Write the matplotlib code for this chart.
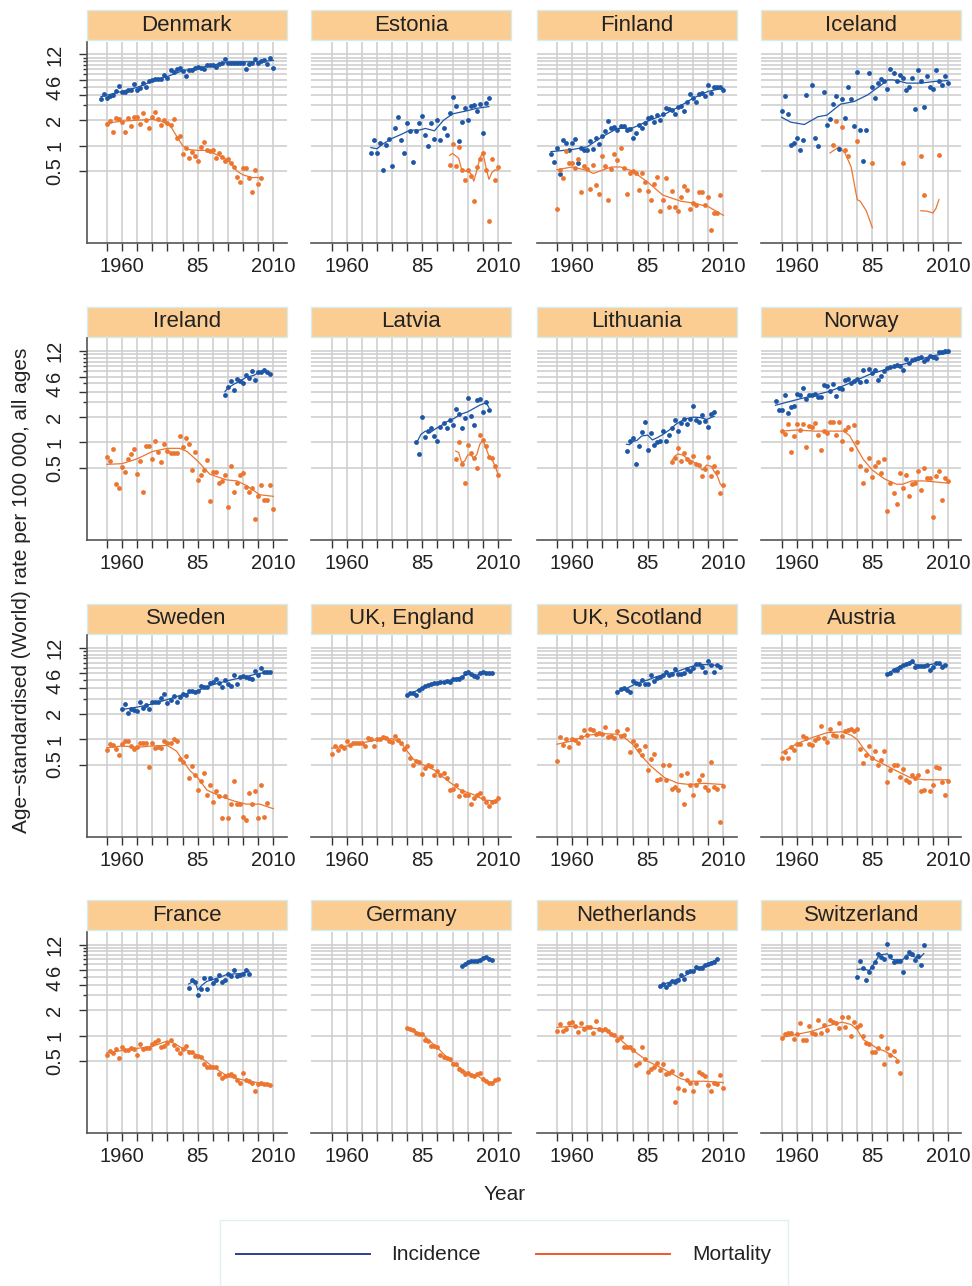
import matplotlib.pyplot as plt
import numpy as np
from matplotlib.patches import Rectangle
from matplotlib.lines import Line2D
from matplotlib.ticker import NullFormatter

plt.rcParams['font.family'] = ['Liberation Sans', 'DejaVu Sans']

nan = np.nan

# Age-standardised rates per 100 000; dots = one value per year from *_from,
# *_fit = smoothed trend (years, values)
denmark_inc_from = 1953
denmark_inc = [3.6, 4.1, 3.7, 3.9, 4.0, 4.4, 5.1, 4.3, 4.3, 4.5, 4.6, 5.3, 4.6, 4.8, 5.5,
               4.9, 5.8, 6.0, 6.1, 6.1, 6.2, 6.9, 6.4, 7.9, 7.4, 8.0, 8.3, 7.6, 6.7, 7.8,
               7.8, 8.2, 8.6, 8.3, 8.0, 8.9, 9.0, 9.1, 8.6, 9.3, 9.5, 10.6, 9.6, 9.4, 9.6,
               9.6, 9.6, 9.4, 8.0, 9.2, 9.5, 10.5, 9.4, 10.1, 10.4, 9.3, 11.0, 8.2]
denmark_mort_from = 1955
denmark_mort = [1.8, 1.95, 1.47, 2.1, 2.05, 1.93, 1.47, 2.1, 1.73, 2.2, 2.2, 1.79, 2.42,
                2.0, 1.6, 2.2, 2.5, 2.06, 1.78, 2.0, 1.86, 1.75, 2.05, 1.25, 1.31, 0.79,
                0.93, 0.71, 0.85, 0.76, 0.66, 0.96, 1.12, 0.9, 0.86, 0.9, 0.71, 0.81, 0.74,
                0.66, 0.7, 0.62, 0.56, 0.43, 0.37, 0.55, 0.55, 0.42, 0.28, 0.51, 0.35, 0.42]
denmark_inc_fit = ([1953, 1960, 1965, 1970, 1975, 1980, 1985, 1990, 1995, 2000, 2005, 2010],
                   [3.8, 4.4, 4.9, 5.8, 6.6, 7.7, 8.3, 9.0, 9.7, 9.8, 9.9, 10.2])
denmark_mort_fit = ([1955, 1960, 1965, 1970, 1973, 1976, 1978, 1980, 1982, 1985, 1988, 1990,
                     1995, 1998, 2000, 2003, 2006],
                    [1.85, 1.95, 2.0, 2.05, 1.95, 1.7, 1.3, 1.0, 0.9, 0.88, 0.88, 0.82,
                     0.68, 0.5, 0.45, 0.42, 0.42])

estonia_inc_from = 1968
estonia_inc = [0.83, 1.18, 0.81, 1.07, 0.51, 1.02, 1.19, 0.57, 1.62, 2.17, 1.17, 0.83, 1.88,
               1.48, 0.65, 1.51, 1.84, 2.27, 1.35, 0.99, 1.84, 1.2, 2.03, 1.17, 1.63, 1.33,
               2.42, 3.75, 2.93, 1.15, 1.91, 2.8, 2.02, 2.95, 3.0, 2.58, 3.13, 1.41, 3.18, 3.65]
estonia_mort_from = 1994
estonia_mort = [0.59, 1.04, 0.57, 0.96, 0.52, 0.39, 0.52, 0.44, 0.22, 0.56, 0.7, 0.83, 0.51,
                0.127, 0.69, 0.39, 0.56]
estonia_inc_fit = ([1968, 1970, 1972, 1975, 1978, 1981, 1984, 1986, 1989, 1992, 1995, 2000,
                    2003, 2007],
                   [0.95, 0.92, 1.05, 1.22, 1.36, 1.53, 1.53, 1.6, 1.5, 2.0, 2.38, 2.6, 2.77, 2.9])
estonia_mort_fit = ([1994, 1995, 1997, 1998, 1999.5, 2001, 2002, 2003, 2004, 2005, 2006, 2007,
                     2008, 2009, 2010],
                    [0.77, 0.81, 0.71, 0.52, 0.5, 0.47, 0.38, 0.51, 0.71, 0.83, 0.56, 0.4,
                     0.48, 0.52, 0.51])

finland_inc_from = 1953
finland_inc = [0.8, 0.64, 0.94, 0.46, 1.17, 1.07, 0.9, 1.07, 1.19, 0.62, 0.95, 0.89, 0.89,
               1.13, 0.91, 1.24, 1.05, 1.3, 1.48, 1.94, 1.62, 1.67, 1.53, 1.71, 1.71, 1.52,
               1.56, 1.23, 1.41, 1.76, 1.62, 1.88, 2.11, 2.17, 1.91, 2.29, 2.02, 2.35, 2.8,
               2.7, 2.62, 2.35, 2.9, 2.93, 2.56, 3.33, 4.07, 3.7, 3.33, 4.05, 4.2, 3.9, 5.25,
               4.2, 5.0, 4.9, 4.95, 4.55]
finland_mort_from = 1955
finland_mort = [0.18, 0.52, 0.41, 0.86, 0.62, 0.62, 0.55, 0.69, 0.28, 0.58, 0.53, 0.31, 0.59,
                0.34, 0.27, 0.76, 0.57, 0.23, 0.53, 0.8, 0.68, 0.95, 0.55, 0.27, 0.47, 0.5,
                0.47, 0.3, 0.47, 0.37, 0.29, 0.23, 0.35, 0.43, 0.17, 0.23, 0.41, 0.19, 0.29,
                0.19, 0.17, 0.25, 0.33, 0.3, 0.18, 0.21, 0.2, 0.28, 0.28, 0.2, 0.25, 0.1,
                0.16, 0.16, 0.26]
finland_inc_fit = ([1953, 1960, 1965, 1970, 1975, 1980, 1985, 1990, 1995, 2000, 2005, 2010],
                   [0.85, 0.9, 0.97, 1.28, 1.6, 1.62, 1.95, 2.3, 2.85, 3.65, 4.4, 4.8])
finland_mort_fit = ([1955, 1960, 1965, 1967, 1973, 1976, 1980, 1985, 1990, 1996, 2000, 2005, 2010],
                    [0.52, 0.56, 0.51, 0.47, 0.56, 0.56, 0.5, 0.37, 0.26, 0.22, 0.21, 0.19, 0.15])

iceland_inc_from = 1955
iceland_inc = [2.6, 3.9, 2.35, 1.02, 1.07, 1.24, 0.89, 1.16, 4.0, nan, 5.25, 1.22, 0.98, nan,
               4.3, 1.76, 2.06, 3.15, 3.9, 0.92, 3.6, 2.13, 4.95, 3.6, 1.73, 7.4, 1.53, 0.66,
               1.53, 7.3, 4.9, 3.7, 5.5, 6.1, 5.8, 4.7, 8.0, 7.3, 5.8, 6.9, 6.3, 4.6, 5.0,
               6.3, 2.7, 7.9, 5.85, 2.9, 6.7, 4.95, 4.7, 7.9, 5.85, 5.25, 6.7, 5.45]
iceland_mort_years = [1972, 1973, 1975, 1976, 1977, 1980, 1985, 1995, 2001, 2002, 2007]
iceland_mort = [1.03, 1.98, 1.66, 0.88, 0.76, 1.13, 0.62, 0.63, 0.75, 0.26, 0.77]
iceland_inc_fit = ([1955, 1958, 1962.5, 1967, 1970, 1974.5, 1979, 1983.5, 1988, 1990, 1992,
                    1996.5, 2001, 2005.5, 2010],
                   [2.17, 1.9, 1.78, 2.2, 2.3, 3.1, 3.33, 4.0, 5.25, 6.0, 6.0, 5.5, 5.5, 5.75, 5.9])
iceland_mort_fit = ([1971, 1974, 1976, 1978, 1980, 1981, 1983, 1985, nan, 2001, 2003, 2005,
                     2006, 2007],
                    [0.82, 0.97, 0.81, 0.56, 0.23, 0.22, 0.17, 0.107, nan, 0.17, 0.168, 0.16,
                     0.18, 0.23])

ireland_inc_from = 1994
ireland_inc = [3.6, 4.5, 5.3, 4.2, 5.65, 5.3, 5.0, 6.35, 5.8, 6.95, 5.4, 6.75, 6.8, 7.2, 6.8, 6.5]
ireland_mort_from = 1955
ireland_mort = [0.67, 0.6, 0.83, 0.32, 0.29, 0.51, 0.45, 0.64, 0.73, 0.83, 0.42, 0.6, 0.26,
                0.9, 0.9, 0.64, 1.05, 0.77, 0.59, 0.97, 0.8, 0.75, 0.75, 0.74, 1.18, 0.88,
                1.14, 0.97, 0.47, 0.76, 0.36, 0.41, 0.47, 0.62, 0.2, 0.45, 0.45, 0.33, 0.35,
                0.41, 0.17, 0.52, 0.26, 0.33, 0.41, 0.43, 0.3, 0.26, 0.29, 0.125, 0.23, 0.31,
                0.21, 0.21, 0.31, 0.165]
ireland_inc_fit = ([1994, 1995, 1997, 1999, 2001, 2003.5, 2005.5, 2007, 2009],
                   [4.0, 4.4, 4.9, 5.3, 5.9, 6.2, 6.8, 7.1, 6.5])
ireland_mort_fit = ([1955, 1960, 1965, 1970, 1975, 1979, 1981.5, 1985, 1989, 1994.5, 1998,
                     2001, 2005.5, 2010],
                    [0.55, 0.56, 0.64, 0.78, 0.85, 0.85, 0.78, 0.6, 0.42, 0.36, 0.35, 0.31,
                     0.24, 0.23])

latvia_inc_from = 1983
latvia_inc = [1.0, 0.73, 2.0, 1.15, 1.35, 1.5, 1.18, 1.03, 1.52, 1.69, 1.5, 1.82, 1.62, 2.47,
              2.16, 1.48, 1.92, 3.36, 2.08, 1.59, 3.15, 3.25, 2.3, 3.02, 2.43]
latvia_mort_from = 1996
latvia_mort = [0.64, 1.02, 0.56, 0.33, 0.92, 0.74, 0.65, 0.5, 1.22, 1.07, 0.91, 0.68, 0.65,
               0.52, 0.41]
latvia_inc_fit = ([1983, 1984.5, 1986, 1987.5, 1989.5, 1991, 1993, 1995.5, 1997.5, 2000, 2002,
                   2004, 2006, 2007],
                  [0.97, 1.24, 1.36, 1.3, 1.46, 1.56, 1.75, 1.92, 2.14, 2.3, 2.52, 2.76, 2.94, 2.6])
latvia_mort_fit = ([1996, 1997, 1998, 1999, 2000, 2001, 2002, 2003, 2004, 2005, 2006, 2007,
                    2008, 2009, 2010],
                   [0.79, 0.76, 0.58, 0.6, 0.71, 0.71, 0.65, 0.72, 0.95, 1.06, 0.87, 0.69,
                    0.63, 0.53, 0.42])

lithuania_inc_from = 1978
lithuania_inc = [0.8, 1.04, 1.135, 0.56, 0.9, 1.32, 1.74, 0.81, 1.28, 0.94, 1.02, 1.04, 1.37,
                 1.04, 1.21, 1.47, 1.85, 1.36, 1.69, 1.87, 1.65, 1.87, 2.66, 1.85, 1.72, 2.1,
                 1.77, 1.54, 2.14, 2.28]
lithuania_mort_from = 1993
lithuania_mort = [0.59, 0.65, 0.86, 0.61, 0.74, 0.64, 0.58, 0.69, 0.55, 0.54, 0.4, 0.48, 0.68,
                  0.4, 0.52, 0.45, 0.25, 0.31]
lithuania_inc_fit = ([1978, 1979, 1980, 1981.5, 1983, 1985, 1986.5, 1988, 1990, 1992, 1994.5,
                      1997, 2000, 2002.5, 2004.5, 2007],
                     [0.95, 0.94, 1.02, 1.06, 1.19, 1.22, 1.07, 1.13, 1.24, 1.39, 1.66, 1.87,
                      1.99, 1.96, 1.87, 2.04])
lithuania_mort_fit = ([1993, 1994, 1995, 1996.5, 1998, 2000, 2002, 2003, 2004.5, 2006, 2007,
                       2008, 2009, 2010],
                      [0.61, 0.69, 0.73, 0.71, 0.65, 0.59, 0.53, 0.47, 0.54, 0.52, 0.45, 0.4,
                       0.32, 0.3])

norway_inc_from = 1953
norway_inc = [3.07, 2.4, 2.4, 3.6, 2.2, 2.64, 2.68, 3.7, 3.6, 4.41, 3.26, 3.6, 3.6, 3.7, 3.44,
              3.44, 4.8, 4.6, 4.1, 4.95, 3.5, 4.41, 4.25, 5.5, 5.7, 5.1, 5.3, 5.65, 5.2, 7.2,
              5.35, 7.4, 6.6, 7.2, 5.4, 6.1, 6.95, 7.5, 7.8, 7.95, 8.2, 8.1, 7.2, 9.7, 8.65,
              9.5, 9.8, 10.0, 10.3, 9.1, 9.8, 10.6, 10.3, 10.0, 11.6, 11.7, 12.0, 12.0]
norway_mort_from = 1955
norway_mort = [1.36, 1.27, 1.66, 0.76, 1.19, 1.66, 1.4, 1.67, 0.88, 1.57, 1.52, 1.69, 1.21,
               0.81, 1.36, 1.29, 1.72, 1.72, 1.22, 1.72, 1.04, 1.39, 1.52, 0.83, 1.6, 1.01,
               0.53, 0.33, 0.47, 0.66, 0.39, 0.53, 0.59, 0.43, 0.64, 0.155, 0.33, 0.25, 0.185,
               0.43, 0.29, 0.41, 0.23, 0.32, 0.33, 0.46, 0.27, 0.5, 0.38, 0.38, 0.13, 0.4,
               0.46, 0.21, 0.38, 0.35]
norway_inc_fit = ([1953, 1958, 1965, 1971, 1978, 1984, 1991, 1998, 2004, 2010],
                  [2.75, 3.07, 3.55, 4.03, 5.1, 6.35, 7.6, 8.95, 10.4, 11.4])
norway_mort_fit = ([1955, 1960, 1966, 1971, 1975.5, 1977.5, 1979.5, 1982, 1985, 1989, 1993,
                    1995, 1998, 2002, 2006, 2010],
                   [1.36, 1.4, 1.36, 1.36, 1.36, 1.2, 0.9, 0.63, 0.47, 0.37, 0.32, 0.32, 0.35,
                    0.35, 0.34, 0.33])

sweden_inc_from = 1960
sweden_inc = [2.28, 2.59, 2.06, 2.26, 2.2, 2.16, 2.76, 2.34, 2.52, 2.26, 2.74, 2.74, 2.76,
              3.04, 3.42, 2.66, 2.94, 3.25, 2.76, 3.12, 3.46, 3.28, 3.68, 3.71, 3.59, 3.74,
              4.26, 4.18, 4.15, 4.62, 4.75, 5.15, 4.57, 4.1, 5.06, 4.49, 4.26, 5.8, 4.49,
              5.45, 5.6, 5.5, 5.35, 5.2, 6.4, 5.8, 6.95, 6.2, 6.2, 6.15]
sweden_mort_from = 1955
sweden_mort = [0.74, 0.87, 0.85, 0.76, 0.65, 0.87, 0.96, 0.96, 0.83, 0.76, 0.81, 0.9, 0.91,
               0.91, 0.47, 0.91, 0.79, 0.81, 0.79, 0.95, 0.9, 0.9, 0.99, 0.95, 0.58, 0.54,
               0.63, 0.35, 0.48, 0.38, 0.25, 0.32, 0.4, 0.22, 0.29, 0.18, 0.24, 0.21, 0.115,
               0.21, 0.115, 0.17, 0.32, 0.17, 0.17, 0.12, 0.11, 0.23, 0.17, 0.24, 0.115,
               0.29, 0.12, 0.175]
sweden_inc_fit = ([1960, 1965, 1970, 1975, 1980, 1985, 1990, 1995, 2000, 2005, 2009],
                  [2.24, 2.39, 2.6, 2.94, 3.36, 3.74, 4.41, 4.92, 5.4, 5.95, 6.2])
sweden_mort_fit = ([1955, 1960, 1965, 1970, 1975, 1978, 1980.5, 1982.5, 1985, 1988, 1992.5,
                    1997, 2001, 2005.5, 2010],
                   [0.79, 0.83, 0.8, 0.83, 0.84, 0.72, 0.53, 0.42, 0.35, 0.25, 0.21, 0.185,
                    0.17, 0.17, 0.15])

england_inc_from = 1980
england_inc = [3.3, 3.5, 3.55, 3.36, 3.8, 4.03, 4.23, 4.37, 4.5, 4.58, 4.6, 4.75, 4.7, 4.83,
               4.7, 5.2, 5.15, 5.15, 5.45, 6.0, 6.2, 5.95, 5.64, 5.45, 6.0, 6.3, 6.1, 6.0, 6.0]
england_mort_from = 1955
england_mort = [0.67, 0.83, 0.75, 0.83, 0.79, 0.95, 0.85, 0.89, 0.9, 0.89, 0.9, 0.83, 1.04,
                0.99, 0.83, 1.01, 0.99, 1.07, 1.04, 0.95, 0.92, 1.1, 0.98, 0.9, 0.76, 0.83,
                0.6, 0.5, 0.55, 0.53, 0.39, 0.45, 0.49, 0.48, 0.38, 0.42, 0.38, 0.4, 0.35,
                0.25, 0.26, 0.29, 0.21, 0.24, 0.22, 0.22, 0.17, 0.2, 0.22, 0.23, 0.2, 0.18,
                0.16, 0.18, 0.185, 0.2]
england_inc_fit = ([1980, 1982, 1985, 1989, 1993, 1997.5, 2001, 2003, 2005.5, 2008],
                   [3.36, 3.55, 4.1, 4.58, 4.85, 5.4, 6.0, 5.7, 6.2, 6.0])
england_mort_fit = ([1955, 1960, 1965, 1970, 1975, 1978, 1980, 1982, 1985, 1989, 1993, 1997.5,
                     2002, 2005.5, 2010],
                    [0.78, 0.83, 0.9, 0.98, 1.01, 0.9, 0.72, 0.58, 0.5, 0.43, 0.33, 0.25,
                     0.22, 0.19, 0.185])

scotland_inc_from = 1975
scotland_inc = [3.63, 3.87, 4.0, 3.8, 3.63, 4.83, 4.6, 4.45, 4.95, 4.49, 4.53, 5.75, 4.9,
                5.3, 5.45, 5.8, 6.15, 5.7, 5.85, 6.7, 5.95, 5.95, 6.1, 6.7, 6.4, 6.95, 7.8,
                7.8, 7.2, 6.2, 8.5, 7.6, 6.2, 7.45, 7.2]
scotland_mort_from = 1955
scotland_mort = [0.55, 1.07, 0.86, 0.99, 0.8, 1.01, 0.97, 0.89, 1.05, 1.27, 1.11, 1.32, 1.29,
                 1.14, 1.18, 1.14, 1.39, 1.05, 1.09, 1.03, 1.25, 1.09, 1.11, 1.3, 0.7, 0.95,
                 0.85, 0.75, 0.65, 0.83, 0.43, 0.58, 0.67, 0.33, 0.34, 0.49, 0.33, 0.49, 0.26,
                 0.27, 0.25, 0.38, 0.17, 0.4, 0.29, 0.22, 0.29, 0.33, 0.38, 0.27, 0.25, 0.53,
                 0.27, 0.26, 0.105, 0.28]
scotland_inc_fit = ([1975, 1978, 1981.5, 1985, 1988, 1991.5, 1995, 1998, 2001.5, 2004.5, 2009],
                    [3.63, 3.98, 4.6, 5.0, 5.5, 5.95, 6.35, 6.95, 7.6, 7.6, 7.4])
scotland_mort_fit = ([1955, 1960, 1965, 1970, 1975, 1977, 1980, 1982.5, 1986, 1990.5, 1995,
                      1999, 2003.5, 2010],
                     [0.87, 0.95, 1.11, 1.16, 1.14, 1.06, 0.87, 0.66, 0.48, 0.35, 0.3, 0.29,
                      0.3, 0.29])

austria_inc_from = 1990
austria_inc = [5.9, 6.0, 6.55, 6.6, 7.2, 7.6, 7.8, 7.85, 8.5, 7.2, 7.35, 7.35, 7.35, 7.55,
               6.55, 7.2, 8.0, 7.85, 7.2, 7.45]
austria_mort_from = 1955
austria_mort = [0.6, 0.71, 0.59, 0.8, 0.75, 0.88, 0.88, 1.09, 1.04, 0.88, 0.86, 0.97, 1.04,
                1.42, 1.04, 0.92, 1.3, 1.11, 1.08, 1.57, 1.08, 1.24, 1.27, 1.32, 1.24, 1.31,
                0.77, 0.52, 0.64, 0.83, 0.59, 0.72, 0.49, 0.56, 0.72, 0.31, 0.43, 0.5, 0.5,
                0.36, 0.44, 0.33, 0.31, 0.38, 0.35, 0.38, 0.24, 0.25, 0.42, 0.24, 0.29, 0.47,
                0.46, 0.31, 0.22, 0.32]
austria_inc_fit = ([1990, 1993, 1997.5, 2000, 2003, 2005.5, 2009],
                   [5.95, 6.95, 8.15, 7.45, 7.45, 7.8, 7.4])
austria_mort_fit = ([1955, 1960, 1965, 1970, 1975, 1978, 1980, 1982, 1985, 1989, 1993, 1997.5,
                     2002, 2010],
                    [0.69, 0.88, 1.04, 1.19, 1.22, 1.11, 0.99, 0.78, 0.59, 0.5, 0.42, 0.35,
                     0.33, 0.33])

france_inc_from = 1982
france_inc = [3.68, 4.6, 4.3, 3.07, 3.6, 4.83, 3.6, 4.85, 4.2, 4.6, 5.3, 4.35, 4.6, 5.45,
              5.05, 6.0, 5.05, 5.3, 5.35, 6.05, 5.4]
france_mort_from = 1955
france_mort = [0.6, 0.66, 0.63, 0.7, 0.54, 0.74, 0.68, 0.68, 0.71, 0.7, 0.59, 0.81, 0.69,
               0.71, 0.72, 0.8, 0.84, 0.9, 0.74, 0.76, 0.82, 0.9, 0.77, 0.7, 0.62, 0.7,
               0.75, 0.65, 0.65, 0.57, 0.57, 0.56, 0.47, 0.43, 0.43, 0.43, 0.43, 0.35, 0.32,
               0.33, 0.34, 0.35, 0.33, 0.3, 0.28, 0.36, 0.3, 0.29, 0.28, 0.22, 0.27, 0.28,
               0.27, 0.27, 0.26]
france_inc_fit = ([1982, 1984, 1985, 1986.5, 1988, 1990.5, 1992.5, 1994.5, 1997, 1999, 2002],
                  [4.1, 4.5, 3.5, 4.0, 4.4, 4.7, 4.95, 5.3, 5.4, 5.45, 5.8])
france_mort_fit = ([1955, 1960, 1965, 1970, 1975, 1977, 1980, 1985, 1990, 1995, 2000, 2004.5,
                    2009],
                   [0.63, 0.67, 0.71, 0.75, 0.87, 0.82, 0.71, 0.59, 0.43, 0.33, 0.3, 0.28, 0.26])

germany_inc_from = 1998
germany_inc = [6.65, 7.1, 7.4, 7.6, 7.7, 7.7, 7.95, 8.3, 8.6, 8.2, 7.9]
germany_mort_from = 1980
germany_mort = [1.24, 1.21, 1.17, 1.09, 1.04, 1.06, 0.9, 0.87, 0.76, 0.75, 0.74, 0.6, 0.56,
                0.54, 0.53, 0.46, 0.46, 0.4, 0.38, 0.35, 0.36, 0.34, 0.33, 0.35, 0.36, 0.31,
                0.29, 0.28, 0.28, 0.3, 0.31]
germany_inc_fit = ([1998, 2001, 2004, 2006, 2008],
                   [6.65, 7.6, 7.95, 8.6, 7.9])
germany_mort_fit = ([1980, 1985, 1990, 1995, 2000, 2003, 2006, 2008, 2010],
                    [1.25, 1.04, 0.72, 0.48, 0.36, 0.34, 0.29, 0.28, 0.31])

netherlands_inc_from = 1989
netherlands_inc = [3.9, 4.1, 3.75, 4.05, 4.5, 4.35, 4.6, 5.3, 4.75, 5.7, 5.9, 5.9, 6.6, 6.3,
                   6.35, 6.95, 7.15, 7.3, 7.4, 8.15]
netherlands_mort_from = 1955
netherlands_mort = [1.13, 1.38, 1.13, 1.21, 1.42, 1.45, 1.31, 1.11, 1.43, 1.19, 1.26, 1.26,
                    1.08, 1.49, 1.21, 1.17, 1.21, 1.13, 1.05, 1.03, 0.9, 0.97, 0.74, 0.74,
                    0.74, 0.67, 0.45, 0.48, 0.74, 0.53, 0.37, 0.41, 0.43, 0.48, 0.39, 0.46,
                    0.35, 0.36, 0.38, 0.165, 0.24, 0.35, 0.23, 0.3, 0.28, 0.22, 0.28, 0.37,
                    0.35, 0.33, 0.26, 0.22, 0.28, 0.27, 0.34, 0.24]
netherlands_inc_fit = ([1989, 1992.5, 1997, 2001.5, 2008],
                       [3.95, 4.35, 5.06, 6.25, 8.05])
netherlands_mort_fit = ([1955, 1960, 1965, 1970, 1975, 1979.5, 1985, 1990.5, 1996, 1999, 2003.5,
                         2010],
                        [1.26, 1.29, 1.25, 1.2, 0.96, 0.7, 0.5, 0.4, 0.31, 0.29, 0.29, 0.28])

switzerland_inc_from = 1980
switzerland_inc = [4.9, 7.6, 6.35, 4.6, 5.65, 6.45, 7.5, 9.35, 8.65, 8.2, 12.1, 8.9, 7.4, 7.75,
                   7.75, 5.65, 8.6, 9.7, 9.35, 7.85, 8.8, 6.95, 11.75]
switzerland_mort_from = 1955
switzerland_mort = [0.95, 1.04, 1.07, 1.09, 0.92, 1.04, 1.42, 0.88, 0.89, 1.31, 1.08, 1.06,
                    1.52, 1.08, 1.35, 1.18, 1.55, 1.45, 1.41, 1.24, 1.69, 1.27, 1.66, 1.0,
                    1.47, 1.28, 1.36, 0.99, 0.82, 0.81, 0.64, 0.64, 0.72, 0.99, 0.47, 0.71,
                    0.6, 0.66, 0.51, 0.36]
switzerland_inc_fit = ([1980, 1982, 1984, 1986, 1987.5, 1990, 1991.5, 1993, 1995, 1996.5, 1998.5,
                        2000.5, 2002],
                       [6.1, 6.2, 5.9, 7.6, 9.1, 9.3, 8.0, 7.9, 7.9, 9.1, 8.7, 8.2, 9.4])
switzerland_mort_fit = ([1955, 1960, 1965, 1970, 1975, 1978, 1980, 1982, 1984.5, 1986.5,
                         1989, 1991, 1993],
                        [0.95, 1.04, 1.13, 1.3, 1.45, 1.36, 1.18, 0.9, 0.8, 0.71, 0.66, 0.6,
                         0.54])

panels = [
    ('Denmark', denmark_inc_from, denmark_inc, denmark_mort_from, denmark_mort,
     denmark_inc_fit, denmark_mort_fit),
    ('Estonia', estonia_inc_from, estonia_inc, estonia_mort_from, estonia_mort,
     estonia_inc_fit, estonia_mort_fit),
    ('Finland', finland_inc_from, finland_inc, finland_mort_from, finland_mort,
     finland_inc_fit, finland_mort_fit),
    ('Iceland', iceland_inc_from, iceland_inc, iceland_mort_years, iceland_mort,
     iceland_inc_fit, iceland_mort_fit),
    ('Ireland', ireland_inc_from, ireland_inc, ireland_mort_from, ireland_mort,
     ireland_inc_fit, ireland_mort_fit),
    ('Latvia', latvia_inc_from, latvia_inc, latvia_mort_from, latvia_mort,
     latvia_inc_fit, latvia_mort_fit),
    ('Lithuania', lithuania_inc_from, lithuania_inc, lithuania_mort_from, lithuania_mort,
     lithuania_inc_fit, lithuania_mort_fit),
    ('Norway', norway_inc_from, norway_inc, norway_mort_from, norway_mort,
     norway_inc_fit, norway_mort_fit),
    ('Sweden', sweden_inc_from, sweden_inc, sweden_mort_from, sweden_mort,
     sweden_inc_fit, sweden_mort_fit),
    ('UK, England', england_inc_from, england_inc, england_mort_from, england_mort,
     england_inc_fit, england_mort_fit),
    ('UK, Scotland', scotland_inc_from, scotland_inc, scotland_mort_from, scotland_mort,
     scotland_inc_fit, scotland_mort_fit),
    ('Austria', austria_inc_from, austria_inc, austria_mort_from, austria_mort,
     austria_inc_fit, austria_mort_fit),
    ('France', france_inc_from, france_inc, france_mort_from, france_mort,
     france_inc_fit, france_mort_fit),
    ('Germany', germany_inc_from, germany_inc, germany_mort_from, germany_mort,
     germany_inc_fit, germany_mort_fit),
    ('Netherlands', netherlands_inc_from, netherlands_inc, netherlands_mort_from,
     netherlands_mort, netherlands_inc_fit, netherlands_mort_fit),
    ('Switzerland', switzerland_inc_from, switzerland_inc, switzerland_mort_from,
     switzerland_mort, switzerland_inc_fit, switzerland_mort_fit),
]

y_major = [0.5, 1, 2, 4, 6, 12]
y_major_labels = ['0.5', '1', '2', '4', '6', '12']
y_minor = [3, 5, 7, 8, 9, 10, 11]
x_major = [1960, 1985, 2010]
x_major_labels = ['1960', '85', '2010']

BLUE = '#1D56A6'
ORANGE = '#EC7630'
GRID = '#CFCFCF'
STRIP = '#FBCD93'


def years_of(start, vals):
    if isinstance(start, int):
        return np.arange(start, start + len(vals))
    return np.asarray(start)


W, H = 972, 1286
fig = plt.figure(figsize=(W / 100, H / 100), dpi=100)

lefts = [86.7, 311.3, 536.7, 761.3]
tops = [41.7, 338.4, 635.1, 931.8]
pw, ph = 200, 201.6

for i, (name, inc_from, inc, mort_from, mort, inc_fit, mort_fit) in enumerate(panels):
    r, c = divmod(i, 4)
    ax = fig.add_axes([lefts[c] / W, 1 - (tops[r] + ph) / H, pw / W, ph / H])
    ax.set_yscale('log')
    ax.set_ylim(0.07, 17)
    ax.set_xlim(1948.3, 2014.4)

    ax.set_yticks(y_major)
    ax.set_yticks(y_minor, minor=True)
    ax.yaxis.set_minor_formatter(NullFormatter())
    ax.set_xticks(x_major)
    ax.set_xticks(np.arange(1955, 2011, 5), minor=True)
    ax.set_xticklabels(x_major_labels, fontsize=14.5, color='#222222')
    ax.grid(True, which='both', color=GRID, lw=1.2)
    ax.set_axisbelow(True)

    for s in ['top', 'right']:
        ax.spines[s].set_visible(False)
    ax.spines['bottom'].set_color('#555555')
    ax.spines['bottom'].set_linewidth(1.2)
    ax.tick_params(axis='x', which='both', length=6, width=1, color='#333333', pad=4)

    if c == 0:
        ax.spines['left'].set_color('#555555')
        ax.spines['left'].set_linewidth(1.2)
        ax.set_yticklabels(y_major_labels, rotation=90, va='center', fontsize=14.5,
                           color='#222222')
        ax.tick_params(axis='y', which='major', length=6, width=1, color='#333333', pad=10)
        ax.tick_params(axis='y', which='minor', length=3, width=1, color='#333333')
    else:
        ax.spines['left'].set_visible(False)
        ax.tick_params(axis='y', which='both', length=0, labelleft=False)

    # header strip with the country name
    strip_h = 30 / ph
    ax.add_patch(Rectangle((0, 1 + 1.5 / ph), 1, strip_h, transform=ax.transAxes,
                           facecolor=STRIP, edgecolor='#D6ECEC', lw=1, clip_on=False))
    ax.text(0.5, 1 + (1.5 + 15) / ph, name, transform=ax.transAxes, ha='center',
            va='center', fontsize=16, color='#222222')

    ax.scatter(years_of(inc_from, inc), inc, s=12, color=BLUE, lw=0, zorder=3)
    ax.scatter(years_of(mort_from, mort), mort, s=12, color=ORANGE, lw=0, zorder=3)
    ax.plot(inc_fit[0], inc_fit[1], color=BLUE, lw=0.9, zorder=2)
    ax.plot(mort_fit[0], mort_fit[1], color=ORANGE, lw=0.9, zorder=2)

fig.text(22 / W, 1 - 590 / H, 'Age\u2212standardised (World) rate per 100 000, all ages',
         rotation=90, ha='center', va='center', fontsize=15, color='#222222')
fig.text(505 / W, 1 - 1195 / H, 'Year', ha='center', va='center', fontsize=15,
         color='#222222')

# legend box at the bottom
fig.add_artist(Rectangle((220 / W, 0), 568 / W, 66 / H, transform=fig.transFigure,
                         facecolor='white', edgecolor='#E2F0F0', lw=1))
ly = 1 - 1254 / H
fig.add_artist(Line2D([236 / W, 370 / W], [ly, ly], color='#2B3D9A', lw=1.4,
                      transform=fig.transFigure))
fig.add_artist(Line2D([536 / W, 670 / W], [ly, ly], color='#F2562A', lw=1.4,
                      transform=fig.transFigure))
fig.text(391 / W, ly, 'Incidence', ha='left', va='center', fontsize=15, color='#222222')
fig.text(692 / W, ly, 'Mortality', ha='left', va='center', fontsize=15, color='#222222')

fig.savefig('out.png', dpi=100)
